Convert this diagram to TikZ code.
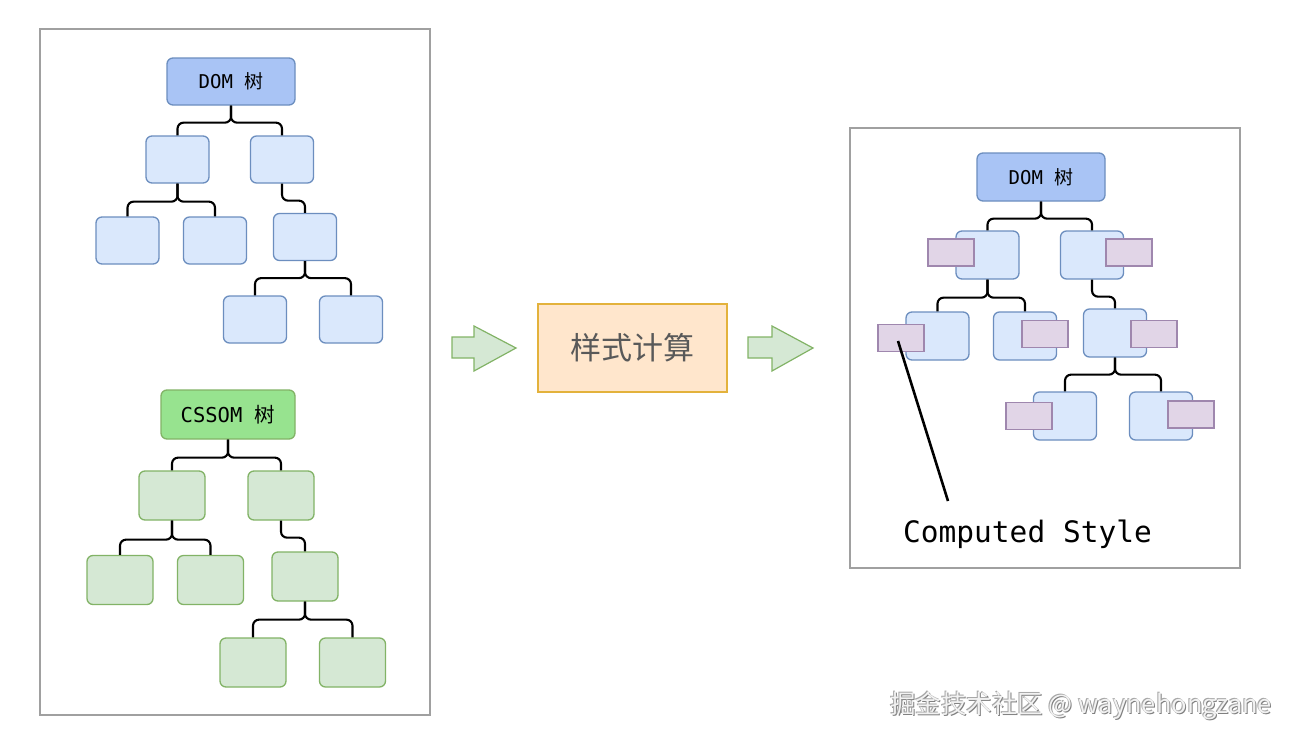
\documentclass[tikz,border=0pt]{standalone}
\usepackage{fontspec}
\newfontfamily\cjk{Noto Sans CJK SC}
\newfontfamily\mono{DejaVu Sans Mono}
\definecolor{bluetop}{HTML}{A9C4F5}
\definecolor{bluelt}{HTML}{DAE8FC}
\definecolor{bluedk}{HTML}{6C8EBF}
\definecolor{greentop}{HTML}{97E38F}
\definecolor{greenlt}{HTML}{D5E8D4}
\definecolor{greendk}{HTML}{82B366}
\definecolor{purplelt}{HTML}{E1D5E7}
\definecolor{purpledk}{HTML}{9F87AE}
\definecolor{orangelt}{HTML}{FFE6CC}
\definecolor{orangedk}{HTML}{E3B23C}
\definecolor{panelgray}{HTML}{A0A0A0}
\tikzset{
  panel/.style={draw=panelgray, line width=1.3pt, fill=white},
  tbox/.style={rectangle, rounded corners=6pt, line width=1.3pt, inner sep=0pt},
  dtop/.style={tbox, fill=bluetop, draw=bluedk, minimum width=128pt, minimum height=47pt, font=\fontsize{19}{21}\selectfont},
  dbox/.style={tbox, fill=bluelt, draw=bluedk, minimum width=63pt, minimum height=47pt},
  ctop/.style={tbox, fill=greentop, draw=greendk, minimum width=134pt, minimum height=49pt, font=\fontsize{20.5}{22}\selectfont},
  cbox/.style={tbox, fill=greenlt, draw=greendk, minimum width=66pt, minimum height=49pt},
  pbox/.style={rectangle, fill=purplelt, draw=purpledk, line width=1.2pt, minimum width=46pt, minimum height=27pt, inner sep=0pt},
  conn/.style={draw=black, line width=2.1pt, rounded corners=6pt},
  bigarrow/.style={fill=greenlt, draw=greendk, line width=1.2pt},
  calcbox/.style={rectangle, fill=orangelt, draw=orangedk, line width=1.3pt, minimum width=189pt, minimum height=88pt, text=black!65, font=\cjk\fontsize{31}{34}\selectfont},
  wmfont/.style={anchor=base, inner sep=0pt, font=\cjk\fontsize{25.5}{28}\selectfont},
}
\begin{document}
\begin{tikzpicture}[x=1pt,y=-1pt]
\useasboundingbox (0,0) rectangle (1293,742);
% panels
\draw[panel] (40,29) rectangle (430,715);
\draw[panel] (850,128) rectangle (1240,568);

% left DOM tree
\node[dtop] (d0) at (231,81.5) {{\mono DOM }{\cjk 树}};
\node[dbox] (d1) at (177.5,159.5) {};
\node[dbox] (d2) at (282,159.5) {};
\node[dbox] (d3) at (127.5,240.5) {};
\node[dbox] (d4) at (215,240.5) {};
\node[dbox] (d5) at (305,237) {};
\node[dbox] (d6) at (255,319.5) {};
\node[dbox] (d7) at (351,319.5) {};
\draw[conn] (d0.south) -- ++(0,17) -| (d1.north);
\draw[conn] (d0.south) -- ++(0,17) -| (d2.north);
\draw[conn] (d1.south) -- ++(0,18) -| (d3.north);
\draw[conn] (d1.south) -- ++(0,18) -| (d4.north);
\draw[conn] (d2.south) -- ++(0,17) -| (d5.north);
\draw[conn] (d5.south) -- ++(0,17) -| (d6.north);
\draw[conn] (d5.south) -- ++(0,17) -| (d7.north);

% CSSOM tree
\node[ctop] (c0) at (228,414.5) {{\mono CSSOM }{\cjk 树}};
\node[cbox] (c1) at (172,495.5) {};
\node[cbox] (c2) at (281,495.5) {};
\node[cbox] (c3) at (120,580) {};
\node[cbox] (c4) at (210.5,580) {};
\node[cbox] (c5) at (305,576.5) {};
\node[cbox] (c6) at (253,662.5) {};
\node[cbox] (c7) at (352.5,662.5) {};
\draw[conn] (c0.south) -- ++(0,18) -| (c1.north);
\draw[conn] (c0.south) -- ++(0,18) -| (c2.north);
\draw[conn] (c1.south) -- ++(0,19) -| (c3.north);
\draw[conn] (c1.south) -- ++(0,19) -| (c4.north);
\draw[conn] (c2.south) -- ++(0,17) -| (c5.north);
\draw[conn] (c5.south) -- ++(0,18) -| (c6.north);
\draw[conn] (c5.south) -- ++(0,18) -| (c7.north);

% middle
\draw[bigarrow] (452,337) -- (474,337) -- (474,326) -- (516,348) -- (474,371) -- (474,358) -- (452,358) -- cycle;
\node[calcbox] (calc) at (632.5,348) {样式计算};
\draw[bigarrow] (748,337) -- (772,337) -- (772,326) -- (813,348) -- (772,371) -- (772,358) -- (748,358) -- cycle;

% right DOM tree with computed styles
\node[dtop, minimum height=48pt] (r0) at (1041,177) {{\mono DOM }{\cjk 树}};
\node[dbox, minimum height=48pt] (r1) at (987.5,255) {};
\node[dbox, minimum height=48pt] (r2) at (1092,255) {};
\node[dbox, minimum height=48pt] (r3) at (937.5,336) {};
\node[dbox, minimum height=48pt] (r4) at (1025,336) {};
\node[dbox, minimum height=48pt] (r5) at (1115,333) {};
\node[dbox, minimum height=48pt] (r6) at (1065,416) {};
\node[dbox, minimum height=48pt] (r7) at (1161,416) {};
\draw[conn] (r0.south) -- ++(0,17) -| (r1.north);
\draw[conn] (r0.south) -- ++(0,17) -| (r2.north);
\draw[conn] (r1.south) -- ++(0,18) -| (r3.north);
\draw[conn] (r1.south) -- ++(0,18) -| (r4.north);
\draw[conn] (r2.south) -- ++(0,17) -| (r5.north);
\draw[conn] (r5.south) -- ++(0,17) -| (r6.north);
\draw[conn] (r5.south) -- ++(0,17) -| (r7.north);
\node[pbox] (p1) at (951,252.5) {};
\node[pbox] (p2) at (1129,252.5) {};
\node[pbox] (p3) at (901,338) {};
\node[pbox] (p4) at (1045,334) {};
\node[pbox] (p5) at (1154,334) {};
\node[pbox] (p6) at (1029,416) {};
\node[pbox] (p7) at (1191,414.5) {};

% label
\node[anchor=base, inner sep=0pt, font=\mono\fontsize{29.5}{32}\selectfont] (cs) at (1027.5,542) {Computed Style};
\coordinate (lstart) at (898,341);
\coordinate (lend) at (948,501);
\draw[line width=2.6pt] (lstart) -- (lend);

% watermark
\node[wmfont, text=black!50] (wms) at (1082,714) {掘金技术社区 @ waynehongzane};
\node[wmfont, text=black!35] (wms2) at (1080,712) {掘金技术社区 @ waynehongzane};
\node[wmfont, text=black!5] (wm) at (1081,713) {掘金技术社区 @ waynehongzane};
\end{tikzpicture}
\end{document}
